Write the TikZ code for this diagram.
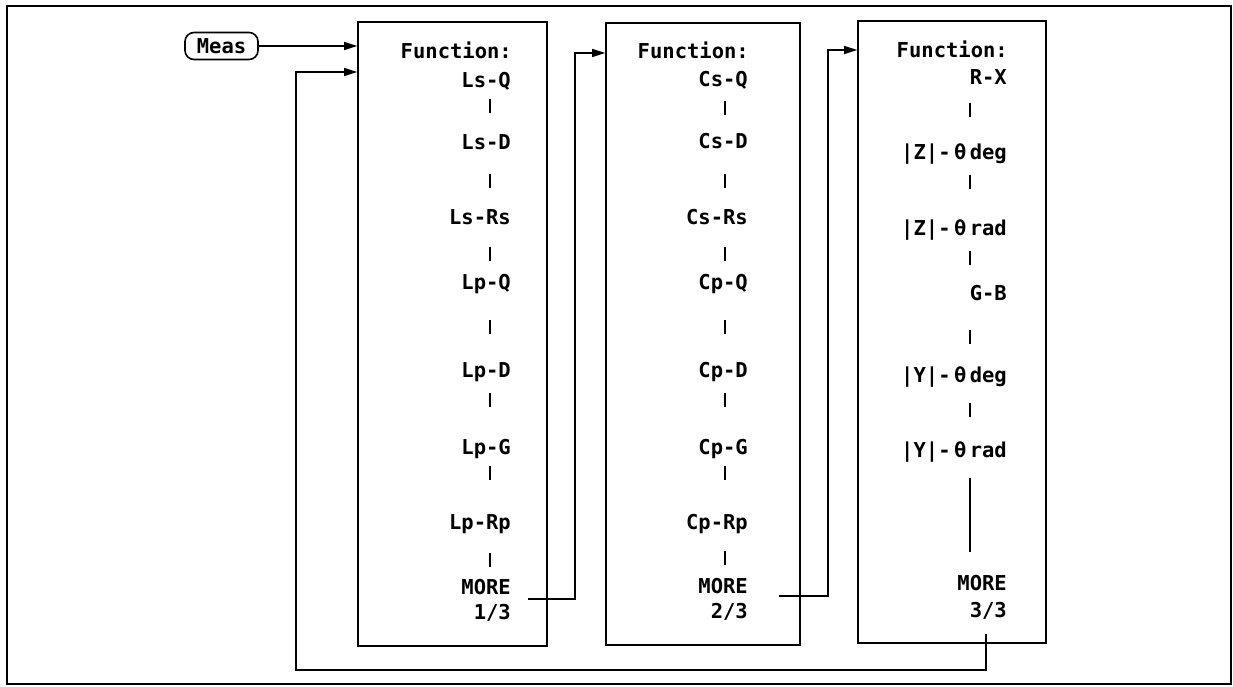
\documentclass[tikz,border=0pt]{standalone}
\usepackage{fontspec}
\setmainfont{DejaVu Sans Mono}
\usetikzlibrary{arrows.meta}
\begin{document}
\begin{tikzpicture}[x=1pt,y=-1pt,
  frame/.style={draw,line width=2.4pt},
  fbox/.style={draw,line width=1.6pt,rectangle,inner sep=0pt},
  lbl/.style={font=\bfseries\fontsize{20.5}{23}\selectfont,inner sep=0pt,text height=15pt,text depth=0pt,anchor=east},
  sep/.style={line width=1.2pt},
  conn/.style={line width=1.5pt},
  arr/.style={conn,-{Triangle[length=13pt,width=8pt]}},
  measbox/.style={draw,line width=1.6pt,rounded corners=9pt,minimum width=73pt,minimum height=27pt,inner sep=0pt,font=\bfseries\fontsize{20.5}{23}\selectfont}
]
\useasboundingbox (0,0) rectangle (1233,687);
\draw[frame] (7,6) rectangle (1231,684);

% boxes
\node[fbox,minimum width=189pt,minimum height=624pt] (b1) at (452.5,334) {};
\node[fbox,minimum width=194pt,minimum height=622pt] (b2) at (703,334) {};
\node[fbox,minimum width=188pt,minimum height=622pt] (b3) at (952,332) {};

% Meas
\node[measbox] (meas) at (221.5,46) {Meas};

% box 1 texts
\node[lbl] (f1) at (512,51) {Function:};
\node[lbl] (a1) at (511,80) {Ls-Q};
\node[lbl] (a2) at (511,142) {Ls-D};
\node[lbl] (a3) at (511,217) {Ls-Rs};
\node[lbl] (a4) at (511,282) {Lp-Q};
\node[lbl] (a5) at (511,370) {Lp-D};
\node[lbl] (a6) at (511,447) {Lp-G};
\node[lbl] (a7) at (511,522) {Lp-Rp};
\node[lbl] (m1) at (511,587) {MORE};
\node[lbl] (p1) at (511,612) {1/3};
\foreach \y in {106,181,254,327,400,473,560}
  \draw[sep] (490,\y-7) -- (490,\y+7);

% box 2 texts
\node[lbl] (f2) at (749,51) {Function:};
\node[lbl] (c1) at (748,79) {Cs-Q};
\node[lbl] (c2) at (748,141) {Cs-D};
\node[lbl] (c3) at (748,217) {Cs-Rs};
\node[lbl] (c4) at (748,282) {Cp-Q};
\node[lbl] (c5) at (748,370) {Cp-D};
\node[lbl] (c6) at (748,447) {Cp-G};
\node[lbl] (c7) at (748,522) {Cp-Rp};
\node[lbl] (m2) at (748,586) {MORE};
\node[lbl] (p2) at (748,611) {2/3};
\foreach \y in {108,181,254,327,400,473,558}
  \draw[sep] (725,\y-7) -- (725,\y+7);

% box 3 texts
\node[lbl] (f3) at (1008,50) {Function:};
\node[lbl] (r1) at (1007,77) {R-X};
\node[lbl] (r2) at (1007,152) {|Z|-\,θ\,deg};
\node[lbl] (r3) at (1007,228) {|Z|-\,θ\,rad};
\node[lbl] (r4) at (1007,293) {G-B};
\node[lbl] (r5) at (1007,375) {|Y|-\,θ\,deg};
\node[lbl] (r6) at (1007,450) {|Y|-\,θ\,rad};
\node[lbl] (m3) at (1007,583) {MORE};
\node[lbl] (p3) at (1007,610) {3/3};
\foreach \y in {110,182,258,337,410}
  \draw[sep] (970,\y-7) -- (970,\y+7);
\draw[sep] (970,478) -- (970,552);

% connectors
\coordinate (s1) at (528,599);
\coordinate (s2) at (779,596);
\coordinate (s3) at (986,634);
\draw[arr] (meas.east) -- (meas.east -| b1.west);
\draw[arr] (s1) -- (575,599) -- (575,53) -- (575,53 -| b2.west);
\draw[arr] (s2) -- (828,596) -- (828,50) -- (828,50 -| b3.west);
\draw[arr] (s3) -- (986,670) -- (296,670) -- (296,72) -- (296,72 -| b1.west);
\end{tikzpicture}
\end{document}
